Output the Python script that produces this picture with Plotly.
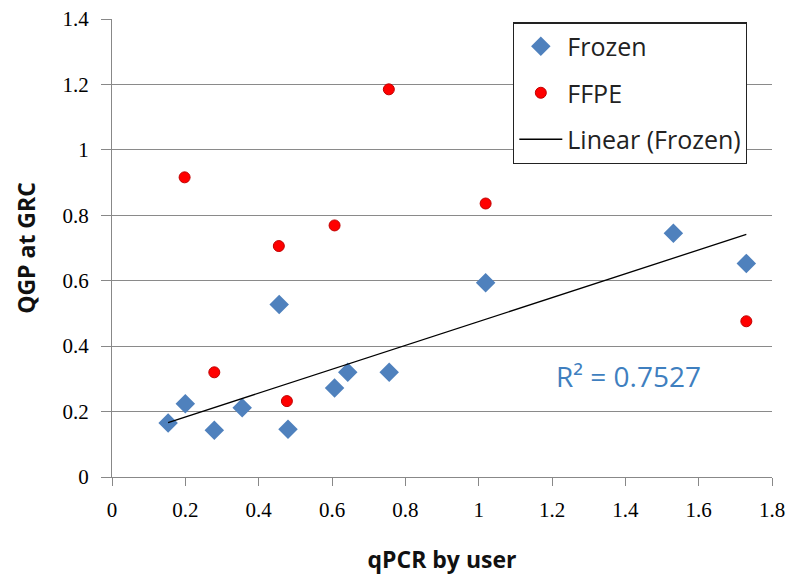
import numpy as np
import plotly.graph_objects as go

frozen_x = [0.153, 0.200, 0.279, 0.355, 0.456, 0.480, 0.607, 0.643, 0.756, 1.019, 1.531, 1.730]
frozen_y = [0.165, 0.224, 0.143, 0.212, 0.527, 0.146, 0.272, 0.320, 0.320, 0.594, 0.745, 0.653]

ffpe_x = [0.198, 0.279, 0.455, 0.477, 0.607, 0.755, 1.019, 1.730]
ffpe_y = [0.916, 0.320, 0.706, 0.232, 0.769, 1.185, 0.836, 0.476]

x_ticks = [0, 0.2, 0.4, 0.6, 0.8, 1, 1.2, 1.4, 1.6, 1.8]
y_ticks = [0, 0.2, 0.4, 0.6, 0.8, 1, 1.2, 1.4]
r2_label = "R² = 0.7527"

slope, intercept = np.polyfit(frozen_x, frozen_y, 1)
tx = np.array([min(frozen_x), max(frozen_x)])
ty = slope * tx + intercept

SANS = "Open Sans, Lato, sans-serif"
SERIF = "Liberation Serif, serif"

fig = go.Figure()
fig.add_trace(go.Scatter(
    x=frozen_x, y=frozen_y, mode="markers", name="Frozen", legendgroup="a",
    marker=dict(symbol="diamond", size=15, color="#4F81BD", line=dict(width=0))))
fig.add_trace(go.Scatter(
    x=ffpe_x, y=ffpe_y, mode="markers", name="FFPE", legendgroup="b",
    marker=dict(symbol="circle", size=11, color="#FF0000", line=dict(width=1, color="#C00000"))))
fig.add_trace(go.Scatter(
    x=tx, y=ty, mode="lines", name="Linear (Frozen)", legendgroup="c",
    line=dict(color="black", width=1.3)))

fig.add_annotation(x=1.408, y=0.308, xref="x", yref="y", text=r2_label, showarrow=False,
                   font=dict(family=SANS, size=28, color="#3F7FBF"))

fig.update_layout(
    width=790, height=576,
    margin=dict(l=112, r=18, t=19, b=99),
    paper_bgcolor="white", plot_bgcolor="white",
    showlegend=True,
    legend=dict(x=0.6076, y=0.993, xanchor="left", yanchor="top",
                bgcolor="white", bordercolor="#222", borderwidth=1.3,
                font=dict(family=SANS, size=25, color="#222"),
                tracegroupgap=11, itemwidth=43),
)
fig.update_xaxes(range=[0, 1.8], tickvals=x_ticks, ticktext=[str(v) for v in x_ticks],
                 automargin=False,
                 showgrid=False, zeroline=False, showline=True, linecolor="#888", linewidth=1.2,
                 ticks="outside", ticklen=8, tickcolor="#888", ticklabelstandoff=6,
                 tickfont=dict(family=SERIF, size=21, color="#000"),
                 title=dict(text="<b>qPCR by user</b>", standoff=30,
                            font=dict(family=SANS, size=23, color="#111")))
fig.update_yaxes(range=[0, 1.4], tickvals=y_ticks, ticktext=[str(v) for v in y_ticks],
                 automargin=False,
                 showgrid=True, gridcolor="#8a8a8a", gridwidth=1.2, zeroline=False,
                 showline=True, linecolor="#888", linewidth=1.2,
                 ticks="outside", ticklen=10, tickcolor="#888", ticklabelstandoff=8,
                 tickfont=dict(family=SERIF, size=21, color="#000"),
                 title=dict(text="<b>QGP at GRC</b>", standoff=20,
                            font=dict(family=SANS, size=23, color="#111")))

fig.write_html("out.html")
